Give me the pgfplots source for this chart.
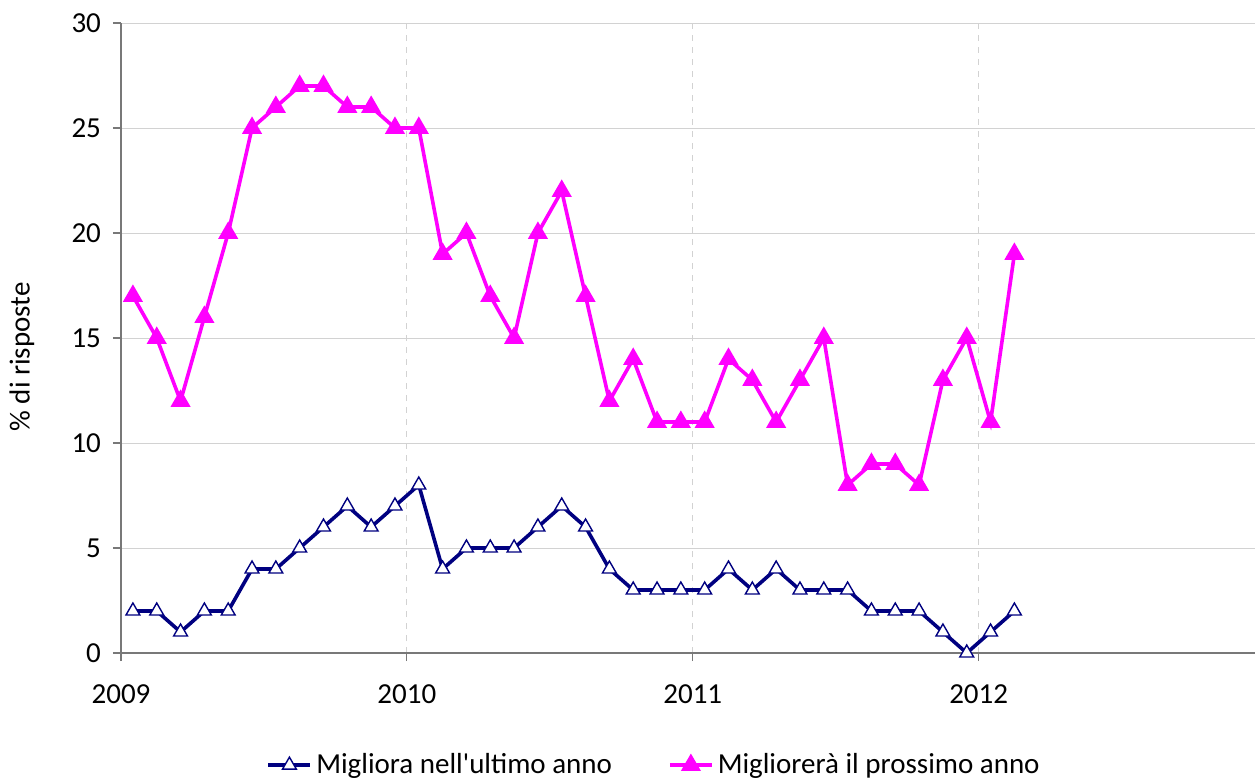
\documentclass[border=0pt]{standalone}
\usepackage{pgfplots}
\pgfplotsset{compat=1.18}
\usepackage{fontspec}
\setmainfont{Carlito}
\definecolor{navyc}{RGB}{0,0,128}
\definecolor{magc}{RGB}{255,0,255}
\definecolor{axc}{RGB}{120,120,120}
\definecolor{gridc}{RGB}{210,210,210}
\begin{document}
\begin{tikzpicture}
\fontsize{14.5}{17}\selectfont
\path[use as bounding box] (0,0) rectangle (627.5pt,389pt);
\begin{axis}[
  at={(60.5pt,62.5pt)}, anchor=south west,
  scale only axis, width=567pt, height=315pt,
  xmin=0, xmax=47.6, ymin=0, ymax=30,
  axis x line*=bottom, axis y line*=left,
  axis line style={axc, line width=0.6pt, -},
  xtick={0,12,24,36}, xticklabels={2009,2010,2011,2012},
  ytick={0,5,10,15,20,25,30},
  tick align=outside, major tick length=4pt,
  tick style={axc, line width=0.6pt},
  xticklabel style={yshift=-7pt},
  yticklabel style={xshift=-1pt},
  /pgf/number format/assume math mode=true,
  ticklabel style={font=\fontsize{14.5}{17}\selectfont},
  xmajorgrids, ymajorgrids,
  x grid style={gridc, dashed, line width=0.5pt},
  y grid style={gridc, line width=0.5pt},
  ylabel={\% di risposte},
  ylabel style={at={(axis description cs:-0.0873,0.47)}, anchor=center, font=\fontsize{14.5}{17}\selectfont},
  legend columns=2,
  legend style={draw=none, fill=none, at={(axis description cs:0.471,-0.178)}, anchor=center,
    font=\fontsize{14.5}{17}\selectfont, /tikz/every even column/.append style={column sep=26pt}},
  legend image code/.code={\draw[mark repeat=2,mark phase=2] plot coordinates {(0cm,0cm)(0.37cm,0cm)(0.74cm,0cm)};},
  clip=false,
]
\addplot[navyc, line width=1.8pt, mark=triangle*, mark size=4pt, mark options={fill=white, draw=navyc, line width=0.7pt, solid}]
 table[x=m,y=v]{
m v
0.5 2
1.5 2
2.5 1
3.5 2
4.5 2
5.5 4
6.5 4
7.5 5
8.5 6
9.5 7
10.5 6
11.5 7
12.5 8
13.5 4
14.5 5
15.5 5
16.5 5
17.5 6
18.5 7
19.5 6
20.5 4
21.5 3
22.5 3
23.5 3
24.5 3
25.5 4
26.5 3
27.5 4
28.5 3
29.5 3
30.5 3
31.5 2
32.5 2
33.5 2
34.5 1
35.5 0
36.5 1
37.5 2
};
\addlegendentry{Migliora nell\textquotesingle ultimo anno}
\addplot[magc, line width=1.8pt, mark=triangle*, mark size=4pt, mark options={fill=magc, draw=magc, solid}]
 table[x=m,y=v]{
m v
0.5 17
1.5 15
2.5 12
3.5 16
4.5 20
5.5 25
6.5 26
7.5 27
8.5 27
9.5 26
10.5 26
11.5 25
12.5 25
13.5 19
14.5 20
15.5 17
16.5 15
17.5 20
18.5 22
19.5 17
20.5 12
21.5 14
22.5 11
23.5 11
24.5 11
25.5 14
26.5 13
27.5 11
28.5 13
29.5 15
30.5 8
31.5 9
32.5 9
33.5 8
34.5 13
35.5 15
36.5 11
37.5 19
};
\addlegendentry{Migliorerà il prossimo anno}
\end{axis}
\end{tikzpicture}
\end{document}
